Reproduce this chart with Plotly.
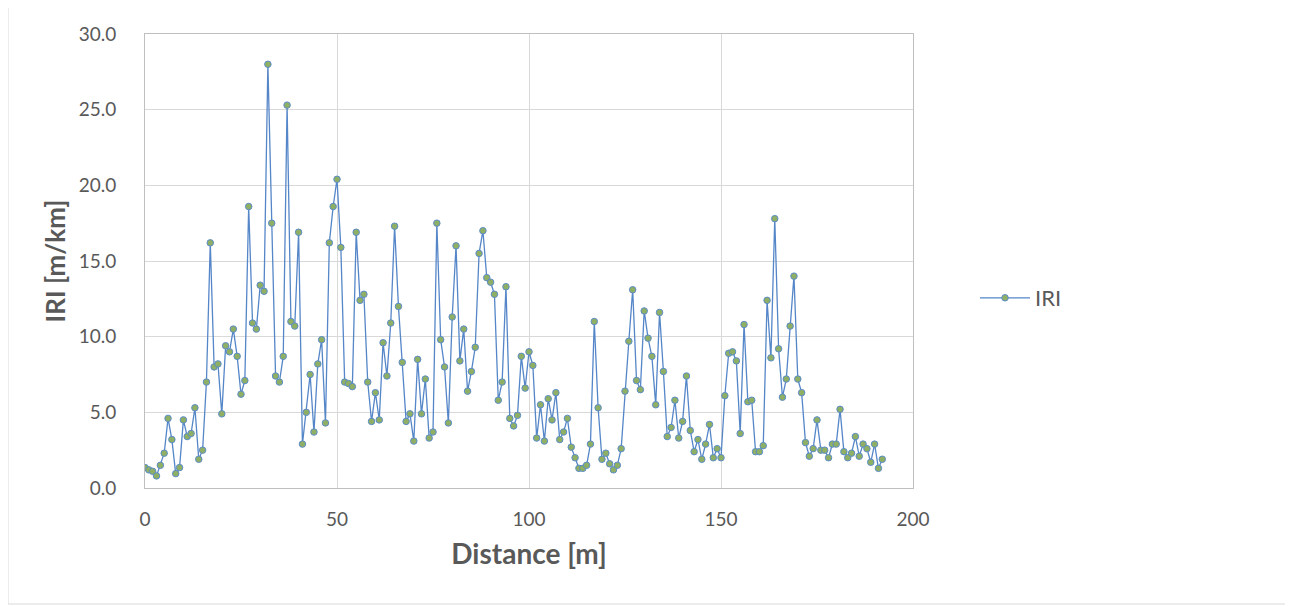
import plotly.graph_objects as go

distance = list(range(0, 193))
iri = [
    1.35, 1.2, 1.1, 0.8, 1.5, 2.3, 4.6, 3.2, 0.95, 1.35,
    4.5, 3.4, 3.6, 5.3, 1.9, 2.5, 7.0, 16.2, 8.0, 8.2,
    4.9, 9.4, 9.0, 10.5, 8.7, 6.2, 7.1, 18.6, 10.9, 10.5,
    13.4, 13.0, 28.0, 17.5, 7.4, 7.0, 8.7, 25.3, 11.0, 10.7,
    16.9, 2.9, 5.0, 7.5, 3.7, 8.2, 9.8, 4.3, 16.2, 18.6,
    20.4, 15.9, 7.0, 6.9, 6.7, 16.9, 12.4, 12.8, 7.0, 4.4,
    6.3, 4.5, 9.6, 7.4, 10.9, 17.3, 12.0, 8.3, 4.4, 4.9,
    3.1, 8.5, 4.9, 7.2, 3.3, 3.7, 17.5, 9.8, 8.0, 4.3,
    11.3, 16.0, 8.4, 10.5, 6.4, 7.7, 9.3, 15.5, 17.0, 13.9,
    13.6, 12.8, 5.8, 7.0, 13.3, 4.6, 4.1, 4.8, 8.7, 6.6,
    9.0, 8.1, 3.3, 5.5, 3.1, 5.9, 4.5, 6.3, 3.2, 3.7,
    4.6, 2.7, 2.0, 1.3, 1.3, 1.5, 2.9, 11.0, 5.3, 1.9,
    2.3, 1.6, 1.2, 1.5, 2.6, 6.4, 9.7, 13.1, 7.1, 6.5,
    11.7, 9.9, 8.7, 5.5, 11.6, 7.7, 3.4, 4.0, 5.8, 3.3,
    4.4, 7.4, 3.8, 2.4, 3.2, 1.9, 2.9, 4.2, 2.0, 2.6,
    2.0, 6.1, 8.9, 9.0, 8.4, 3.6, 10.8, 5.7, 5.8, 2.4,
    2.4, 2.8, 12.4, 8.6, 17.8, 9.2, 6.0, 7.2, 10.7, 14.0,
    7.2, 6.3, 3.0, 2.1, 2.6, 4.5, 2.5, 2.5, 2.0, 2.9,
    2.9, 5.2, 2.4, 2.0, 2.3, 3.4, 2.1, 2.9, 2.6, 1.7,
    2.9, 1.3, 1.9,
]
x_ticks = [0, 50, 100, 150, 200]
y_ticks = [0, 5, 10, 15, 20, 25, 30]
series_name = "IRI"
x_title = "Distance [m]"
y_title = "IRI [m/km]"

FONT = "Lato, 'Liberation Sans', sans-serif"
GRAY = "#595959"

fig = go.Figure()
fig.add_trace(go.Scatter(
    x=distance, y=iri, name=series_name, mode="lines+markers",
    line=dict(color="#5586c8", width=1.3),
    marker=dict(size=6.5, color="#8fb064", line=dict(color="#5b8cc9", width=1)),
))

# page body adds an offset; work in screen pixels
OX, OY = 8, 7
W, H = 1293, 606
# target plot area on screen
PL, PR, PT, PB = 145, 913, 33, 487
L, T = PL - OX, PT - OY
R = W - (PR - OX)
B = H - (PB - OY)
pw, ph = PR - PL, PB - PT

def px_x(p):
    return (p - PL) / pw

def px_y(p):
    return (PB - p) / ph

fig.add_shape(type="rect", xref="paper", yref="paper",
              x0=px_x(8), x1=px_x(1290), y0=px_y(603), y1=px_y(5),
              line=dict(color="#d9d9d9", width=1), layer="below")

fig.update_layout(
    width=W, height=H,
    margin=dict(l=L, r=R, t=T, b=B, pad=0),
    paper_bgcolor="white", plot_bgcolor="white",
    font=dict(family=FONT, color=GRAY, size=19),
    showlegend=True,
    legend=dict(x=px_x(975), y=px_y(297), xanchor="left", yanchor="middle",
                font=dict(size=22, color=GRAY), bgcolor="rgba(0,0,0,0)",
                itemwidth=50),
    xaxis=dict(
        range=[0, 200], tickvals=x_ticks, ticks="", showline=True,
        linecolor="#bfbfbf", linewidth=1, mirror=True,
        showgrid=True, gridcolor="#d9d9d9", gridwidth=1, zeroline=False,
        tickfont=dict(size=19, color=GRAY), ticklabelstandoff=14,
        title=dict(text="<b>" + x_title + "</b>", font=dict(size=28, color=GRAY), standoff=15),
    ),
    yaxis=dict(
        range=[0, 30], tickvals=y_ticks, tickformat=".1f", ticks="",
        showline=True, linecolor="#bfbfbf", linewidth=1, mirror=True,
        showgrid=True, gridcolor="#d9d9d9", gridwidth=1, zeroline=False,
        tickfont=dict(size=19, color=GRAY), ticklabelstandoff=24,
        title=dict(text="<b>" + y_title + "</b>", font=dict(size=26, color=GRAY), standoff=5),
    ),
)

fig.write_html("out.html")
